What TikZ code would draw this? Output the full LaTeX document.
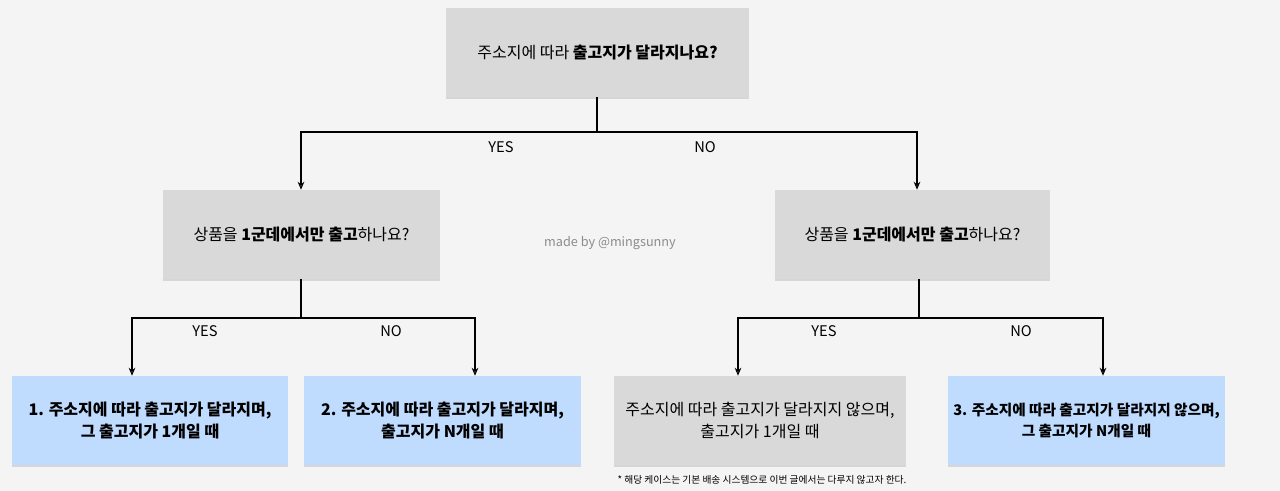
\documentclass[tikz,border=0pt]{standalone}
\usepackage{fontspec}
\setmainfont{Noto Sans CJK KR}
\usetikzlibrary{arrows.meta,shadows}
\definecolor{bg}{HTML}{F4F4F4}
\definecolor{graybox}{HTML}{D9D9D9}
\definecolor{bluebox}{HTML}{BFDBFE}
\tikzset{
 box/.style={fill=graybox,minimum width=#1*0.75pt,minimum height=89*0.75pt,inner sep=0pt,align=center,font=\fontsize{12}{16}\selectfont,drop shadow={shadow xshift=0pt,shadow yshift=-1.5pt,opacity=0.25}},
 bbox/.style={box=#1,fill=bluebox,font=\fontsize{12}{16}\selectfont\bfseries},
 conn/.style={draw=black,line width=0.8pt},
 arr/.style={conn,-{Stealth[length=6pt,width=5pt,open]}},
 lbl/.style={font=\fontsize{11}{13}\selectfont}
}
\begin{document}
\begin{tikzpicture}[x=0.75pt,y=-0.75pt]
\fill[bg] (0,0) rectangle (1280,491);
\node[box=303] (q) at (597.5,52.5) {주소지에 따라 \textbf{출고지가 달라지나요?}};
\node[box=277] (l) at (301.5,234.5) {상품을 \textbf{1군데에서만 출고}하나요?};
\node[box=275] (r) at (912.5,234.5) {상품을 \textbf{1군데에서만 출고}하나요?};
\node[bbox=276] (b1) at (150,420.5) {1. 주소지에 따라 출고지가 달라지며,\\그 출고지가 1개일 때};
\node[bbox=277] (b2) at (442.5,420.5) {2. 주소지에 따라 출고지가 달라지며,\\출고지가 N개일 때};
\node[box=292] (b3) at (760,420.5) {주소지에 따라 출고지가 달라지지 않으며,\\출고지가 1개일 때};
\node[bbox=277,font=\fontsize{11}{16}\selectfont\bfseries] (b4) at (1086.5,420.5) {3. 주소지에 따라 출고지가 달라지지 않으며,\\그 출고지가 N개일 때};
\coordinate (qj) at (597,132);
\coordinate (lj) at (301,318);
\coordinate (rj) at (919,318);
\draw[conn] (q.south -| qj) -- (qj);
\draw[arr] (qj) -- (301,132) -- (l.north -| 301,0);
\draw[arr] (qj) -- (917,132) -- (r.north -| 917,0);
\draw[conn] (l.south -| lj) -- (lj);
\draw[arr] (lj) -- (132,318) -- (b1.north -| 132,0);
\draw[arr] (lj) -- (475,318) -- (b2.north -| 475,0);
\draw[conn] (r.south -| rj) -- (rj);
\draw[arr] (rj) -- (738,318) -- (b3.north -| 738,0);
\draw[arr] (rj) -- (1103,318) -- (b4.north -| 1103,0);
\node[lbl] (y1) at (501,147) {YES};
\node[lbl] (n1) at (705,147) {NO};
\node[lbl] (y2) at (205,331) {YES};
\node[lbl] (n2) at (391,331) {NO};
\node[lbl] (y3) at (824,331) {YES};
\node[lbl] (n3) at (1021,331) {NO};
\node[font=\fontsize{9.5}{11}\selectfont,text=black!45] (wm) at (610,243) {made by @mingsunny};
\node[font=\fontsize{7.3}{9}\selectfont] (fn) at (762,480) {* 해당 케이스는 기본 배송 시스템으로 이번 글에서는 다루지 않고자 한다.};
\end{tikzpicture}
\end{document}
